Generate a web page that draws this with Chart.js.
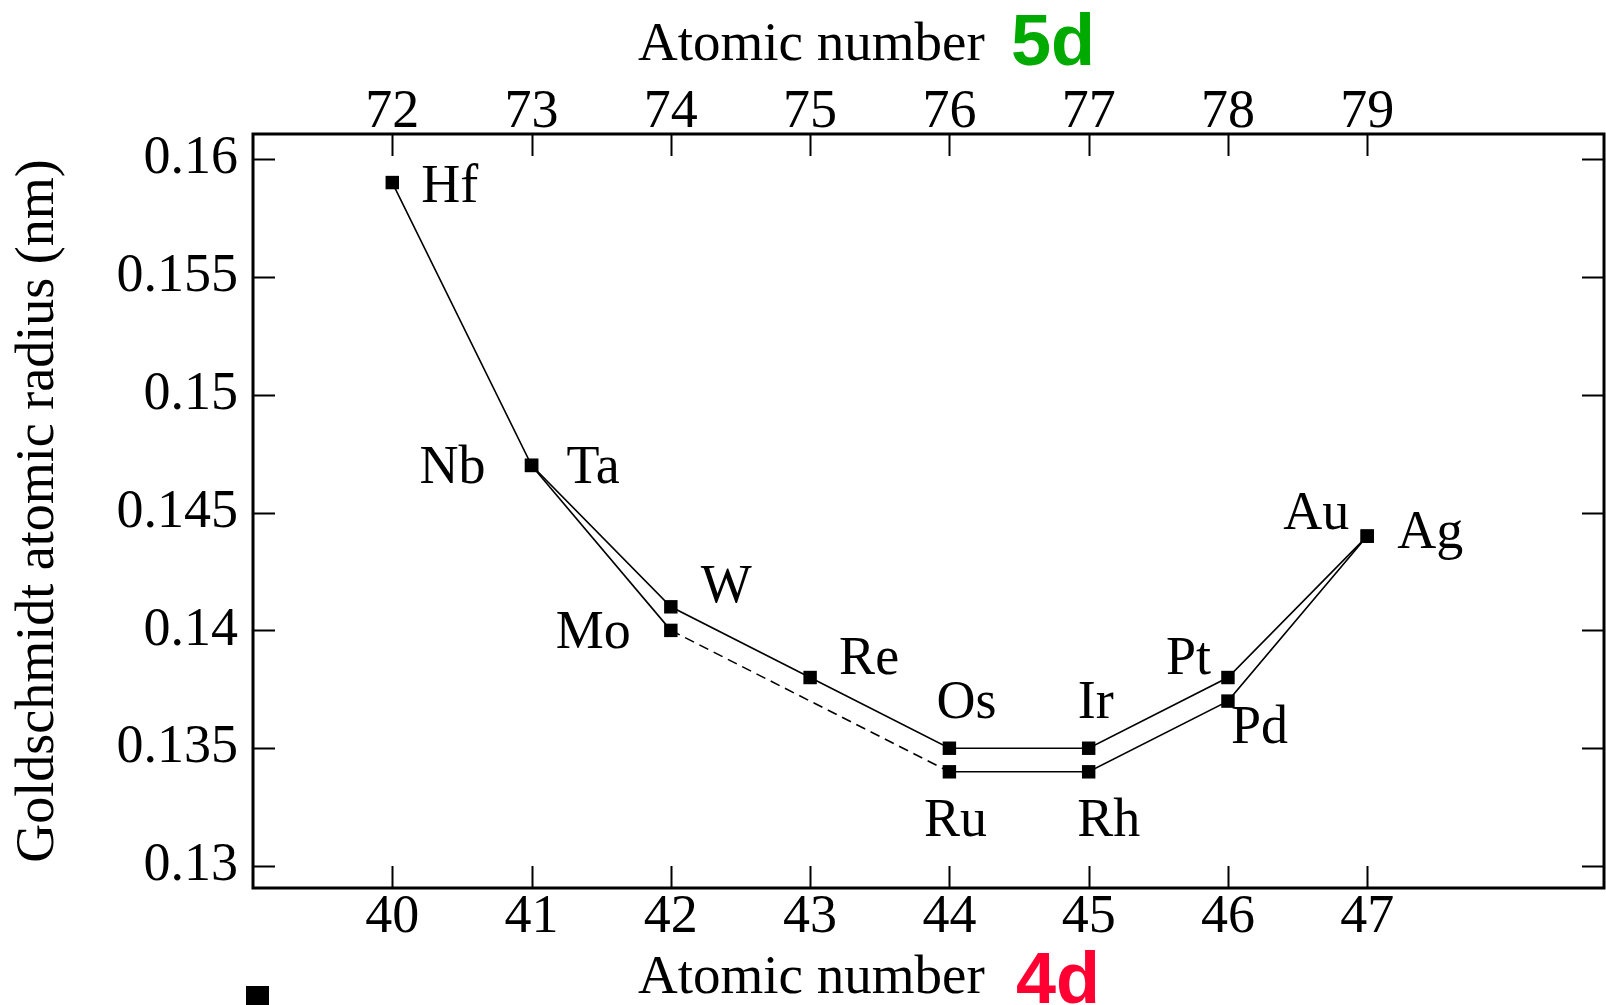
<!DOCTYPE html>
<html>
<head>
<meta charset="utf-8">
<style>
  html, body { margin: 0; padding: 0; background: #ffffff; }
  #wrap { width: 1606px; height: 1005px; }
</style>
<script src="https://cdn.jsdelivr.net/npm/chart.js@4.4.1/dist/chart.umd.min.js"></script>
</head>
<body>
<div id="wrap"><canvas id="c" width="1606" height="1005"></canvas></div>
<script>
// Goldschmidt atomic radii of the 4d and 5d transition metals (nm)
const z4d = [41, 42, 44, 45, 46, 47];
const radius4d = [0.147, 0.140, 0.134, 0.134, 0.137, 0.144];
const names4d = ['Nb', 'Mo', 'Ru', 'Rh', 'Pd', 'Ag'];

const z5d = [72, 73, 74, 75, 76, 77, 78, 79];
const radius5d = [0.159, 0.147, 0.141, 0.138, 0.135, 0.135, 0.138, 0.144];
const names5d = ['Hf', 'Ta', 'W', 'Re', 'Os', 'Ir', 'Pt', 'Au'];

// Tick values on each axis
const ticks4d = [40, 41, 42, 43, 44, 45, 46, 47];
const ticks5d = [72, 73, 74, 75, 76, 77, 78, 79];
const radiusTicks = [0.13, 0.135, 0.14, 0.145, 0.15, 0.155, 0.16];
const radiusTickLabels = ['0.13', '0.135', '0.14', '0.145', '0.15', '0.155', '0.16'];

// Where each element symbol sits relative to its marker: [dx, dy(baseline), align]
const labelPlacement4d = {
  Nb: [-46, 18, 'right'], Mo: [-40, 18, 'right'], Ru: [6, 64, 'center'],
  Rh: [20, 64, 'center'], Pd: [3, 42, 'left'], Ag: [30, 12, 'left']
};
const labelPlacement5d = {
  Hf: [29, 19, 'left'], Ta: [35, 18, 'left'], W: [30, -5, 'left'], Re: [29, -4, 'left'],
  Os: [17, -30, 'center'], Ir: [7, -30, 'center'], Pt: [-17, -4, 'right'], Au: [-18, -7, 'right']
};

const SERIF = '"Liberation Serif", "DejaVu Serif", "Times New Roman", serif';
const SANS = '"Liberation Sans", Arial, sans-serif';
const FONT_PX = 54;

const points4d = z4d.map((z, i) => ({ x: z, y: radius4d[i] }));
const points5d = z5d.map((z, i) => ({ x: z, y: radius5d[i] }));

function fixTicks(values) {
  return function (scale) { scale.ticks = values.map(v => ({ value: v })); };
}
function fitHorizontal(height) {
  return function (s) { s.height = height; s.paddingLeft = 0; s.paddingRight = 0; };
}

// Inward tick marks, frame, symbols and composite axis titles
const decorations = {
  id: 'decorations',
  afterDatasetsDraw(chart) {
    const ctx = chart.ctx;
    const a = chart.chartArea;
    const sx = chart.scales.x, sx2 = chart.scales.x2, sy = chart.scales.y;
    const TL = 22;
    ctx.save();
    ctx.strokeStyle = '#000';
    ctx.lineWidth = 2;
    ctx.beginPath();
    ticks4d.forEach(v => {
      const px = Math.round(sx.getPixelForValue(v)) + 0.5;
      ctx.moveTo(px, a.bottom); ctx.lineTo(px, a.bottom - TL);
    });
    ticks5d.forEach(v => {
      const px = Math.round(sx2.getPixelForValue(v)) + 0.5;
      ctx.moveTo(px, a.top); ctx.lineTo(px, a.top + TL);
    });
    radiusTicks.forEach(v => {
      const py = Math.round(sy.getPixelForValue(v)) + 0.5;
      ctx.moveTo(a.left, py); ctx.lineTo(a.left + TL, py);
      ctx.moveTo(a.right, py); ctx.lineTo(a.right - TL, py);
    });
    ctx.stroke();

    ctx.lineWidth = 3;
    ctx.strokeRect(a.left, a.top, a.right - a.left, a.bottom - a.top);

    // element symbols beside the markers
    ctx.fillStyle = '#000';
    ctx.font = FONT_PX + 'px ' + SERIF;
    ctx.textBaseline = 'alphabetic';
    const drawNames = (dsIndex, names, placement) => {
      const meta = chart.getDatasetMeta(dsIndex);
      meta.data.forEach((pt, i) => {
        const p = placement[names[i]];
        ctx.textAlign = p[2];
        ctx.fillText(names[i], pt.x + p[0], pt.y + p[1]);
      });
    };
    drawNames(0, names4d, labelPlacement4d);
    drawNames(1, names5d, labelPlacement5d);
    ctx.restore();
  },
  afterDraw(chart) {
    const ctx = chart.ctx;
    const a = chart.chartArea;
    ctx.save();
    ctx.textBaseline = 'alphabetic';
    ctx.textAlign = 'left';
    const titleLeft = a.left + 385;

    // top axis title
    ctx.fillStyle = '#000';
    ctx.font = '55px ' + SERIF;
    ctx.fillText('Atomic number', titleLeft, a.top - 74);
    ctx.fillStyle = '#00aa00';
    ctx.font = 'bold 72px ' + SANS;
    ctx.fillText('5d', titleLeft + 373, a.top - 69);

    // bottom axis title
    ctx.fillStyle = '#000';
    ctx.font = '55px ' + SERIF;
    ctx.fillText('Atomic number', titleLeft, a.bottom + 105);
    ctx.fillStyle = '#ff0033';
    ctx.font = 'bold 72px ' + SANS;
    ctx.fillText('4d', titleLeft + 378, a.bottom + 115);

    // small marker key below the frame
    ctx.fillStyle = '#000';
    ctx.fillRect(a.left - 7, a.bottom + 98, 23, 23);
    ctx.restore();
  }
};

new Chart(document.getElementById('c'), {
  type: 'line',
  data: {
    datasets: [
      {
        label: '4d',
        data: points4d,
        xAxisID: 'x',
        yAxisID: 'y',
        borderColor: '#000',
        borderWidth: 1.6,
        pointStyle: 'rect',
        pointRadius: 9.5,
        pointBorderWidth: 0,
        pointBackgroundColor: '#000',
        fill: false,
        tension: 0,
        segment: {
          borderDash: c => (c.p1.parsed.x - c.p0.parsed.x > 1 ? [10, 6] : undefined)
        }
      },
      {
        label: '5d',
        data: points5d,
        xAxisID: 'x2',
        yAxisID: 'y',
        borderColor: '#000',
        borderWidth: 1.6,
        pointStyle: 'rect',
        pointRadius: 9.5,
        pointBorderWidth: 0,
        pointBackgroundColor: '#000',
        fill: false,
        tension: 0
      }
    ]
  },
  options: {
    responsive: false,
    animation: false,
    devicePixelRatio: 1,
    layout: { autoPadding: false, padding: { left: 0, right: 2, top: 0, bottom: 0 } },
    plugins: { legend: { display: false }, tooltip: { enabled: false } },
    scales: {
      x: {
        type: 'linear', position: 'bottom', min: 39, max: 48.7,
        afterBuildTicks: fixTicks(ticks4d),
        afterFit: fitHorizontal(117),
        grid: { display: false, drawTicks: false },
        border: { display: false },
        ticks: {
          color: '#000', padding: 3, maxRotation: 0, autoSkip: false,
          font: { family: SERIF, size: FONT_PX, lineHeight: 1 },
          callback: v => String(v)
        }
      },
      x2: {
        type: 'linear', position: 'top', min: 71, max: 80.7,
        afterBuildTicks: fixTicks(ticks5d),
        afterFit: fitHorizontal(134),
        grid: { display: false, drawTicks: false },
        border: { display: false },
        ticks: {
          color: '#000', padding: -6, maxRotation: 0, autoSkip: false,
          font: { family: SERIF, size: FONT_PX, lineHeight: 1 },
          callback: v => String(v)
        }
      },
      y: {
        type: 'linear', position: 'left', min: 0.12907, max: 0.16106,
        afterBuildTicks: fixTicks(radiusTicks),
        afterFit: s => { s.width = 253; s.paddingTop = 0; s.paddingBottom = 0; },
        grid: { display: false, drawTicks: false },
        border: { display: false },
        title: {
          display: true,
          text: 'Goldschmidt atomic radius (nm)',
          color: '#000',
          font: { family: SERIF, size: FONT_PX, lineHeight: 1.2 },
          padding: { top: 6, bottom: 0 }
        },
        ticks: {
          color: '#000', padding: 15, autoSkip: false,
          font: { family: SERIF, size: FONT_PX, lineHeight: 1 },
          callback: v => {
            const i = radiusTicks.findIndex(t => Math.abs(t - v) < 1e-9);
            return i >= 0 ? radiusTickLabels[i] : '';
          }
        }
      }
    }
  },
  plugins: [decorations]
});
</script>
</body>
</html>
